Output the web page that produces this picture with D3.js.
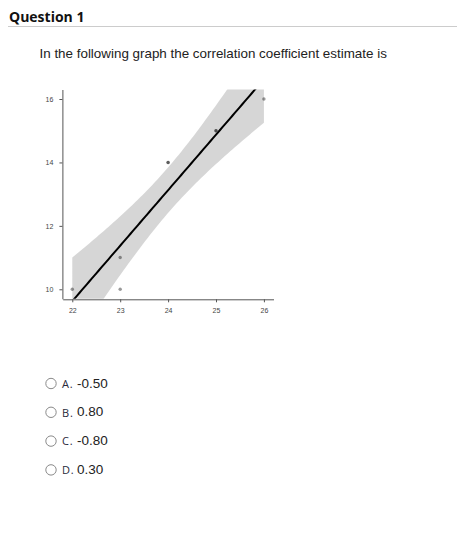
<!DOCTYPE html>
<html>
<head>
<meta charset="utf-8">
<script src="https://cdn.jsdelivr.net/npm/d3@7"></script>
<style>
  body { margin: 0; background: #fff; }
  svg { display: block; }
</style>
</head>
<body>
<svg id="page"></svg>
<script>
// data (overlapping points at 24 and 25 show darker)
const xValues = [22, 23, 23, 24, 24, 25, 25, 26];
const yValues = [10, 11, 10, 14, 14, 15, 15, 16];
const xTicks = [22, 23, 24, 25, 26];
const yTicks = [10, 12, 14, 16];
const optionLetters = ['A.', 'B.', 'C.', 'D.'];
const optionValues = ['-0.50', '0.80', '-0.80', '0.30'];

const width = 457, height = 533;
const svg = d3.select('#page').attr('width', width).attr('height', height);

// header
svg.append('text')
  .attr('x', 9).attr('y', 22)
  .style('font-family', '"Open Sans", sans-serif')
  .style('font-weight', 'bold')
  .style('font-size', '14px')
  .attr('fill', '#111')
  .text('Question 1');

svg.append('line')
  .attr('x1', 8).attr('x2', width)
  .attr('y1', 26.5).attr('y2', 26.5)
  .attr('stroke', '#ccc');

svg.append('text')
  .attr('x', 39.5).attr('y', 58.3)
  .style('font-family', '"Liberation Sans", Arial, sans-serif')
  .style('font-size', '13.4px')
  .attr('fill', '#222')
  .text('In the following graph the correlation coefficient estimate is');

// scales
const x = d3.scaleLinear().domain([21.8, 26.2]).range([62.7, 273.5]);
const y = d3.scaleLinear().domain([9.7, 16.3]).range([298.8, 89.5]);

// linear fit with 95% confidence band
const n = xValues.length;
const mx = d3.mean(xValues), my = d3.mean(yValues);
const sxx = d3.sum(xValues, v => (v - mx) ** 2);
const sxy = d3.sum(xValues, (v, i) => (v - mx) * (yValues[i] - my));
const slope = sxy / sxx;
const intercept = my - slope * mx;
const sse = d3.sum(xValues, (v, i) => (yValues[i] - (intercept + slope * v)) ** 2);
const s = Math.sqrt(sse / (n - 2));
const tCrit = 2.446912; // qt(0.975, 6)

const grid = d3.range(80).map(i => 22 + i * 4 / 79);
const fit = grid.map(g => {
  const pred = intercept + slope * g;
  const se = s * Math.sqrt(1 / n + (g - mx) ** 2 / sxx);
  return { x: g, y: pred, lo: pred - tCrit * se, hi: pred + tCrit * se };
});

svg.append('clipPath').attr('id', 'panel')
  .append('rect')
  .attr('x', x.range()[0]).attr('y', y.range()[1])
  .attr('width', x.range()[1] - x.range()[0])
  .attr('height', y.range()[0] - y.range()[1]);

const plot = svg.append('g').attr('clip-path', 'url(#panel)');

plot.append('path')
  .datum(fit)
  .attr('fill', '#999')
  .attr('fill-opacity', 0.4)
  .attr('d', d3.area().x(d => x(d.x)).y0(d => y(d.lo)).y1(d => y(d.hi)));

plot.append('path')
  .datum(fit)
  .attr('fill', 'none')
  .attr('stroke', '#000')
  .attr('stroke-width', 2)
  .attr('d', d3.line().x(d => x(d.x)).y(d => y(d.y)));

plot.selectAll('.pt')
  .data(xValues)
  .enter()
  .append('circle')
  .attr('class', 'pt')
  .attr('cx', d => x(d))
  .attr('cy', (d, i) => y(yValues[i]))
  .attr('r', 1.7)
  .attr('fill', '#000')
  .attr('fill-opacity', 0.4);

// axes
const xAxis = svg.append('g')
  .attr('transform', `translate(0,${y.range()[0] + 0.5})`)
  .call(d3.axisBottom(x).tickValues(xTicks).tickFormat(d3.format('d'))
    .tickSize(3).tickPadding(6).tickSizeOuter(0));

const yAxis = svg.append('g')
  .attr('transform', `translate(${x.range()[0] - 0.3},0)`)
  .call(d3.axisLeft(y).tickValues(yTicks).tickFormat(d3.format('d'))
    .tickSize(3).tickPadding(6).tickSizeOuter(0));

[xAxis, yAxis].forEach(ax => {
  ax.select('.domain').attr('stroke', '#555');
  ax.selectAll('.tick line').attr('stroke', '#555');
  ax.selectAll('.tick text')
    .attr('fill', '#444')
    .style('font-family', '"Liberation Sans", Arial, sans-serif')
    .style('font-size', '7px');
});

// answer choices
const opts = svg.selectAll('.opt')
  .data(optionLetters)
  .enter()
  .append('g')
  .attr('class', 'opt')
  .attr('transform', (d, i) => `translate(0,${383.5 + i * 28.8})`);

opts.append('circle')
  .attr('cx', 51).attr('cy', 0).attr('r', 5.2)
  .attr('fill', '#fff')
  .attr('stroke', '#8a8a8a')
  .attr('stroke-width', 1);

opts.append('text')
  .attr('x', 62).attr('y', 4.3)
  .style('font-family', '"Open Sans", sans-serif')
  .style('font-size', '11px')
  .style('letter-spacing', '0.8px')
  .attr('fill', '#2a2a3a')
  .text(d => d);

opts.append('text')
  .attr('x', 77).attr('y', 4)
  .style('font-family', '"Liberation Sans", Arial, sans-serif')
  .style('font-size', '13.5px')
  .attr('fill', '#222')
  .text((d, i) => optionValues[i]);
</script>
</body>
</html>
